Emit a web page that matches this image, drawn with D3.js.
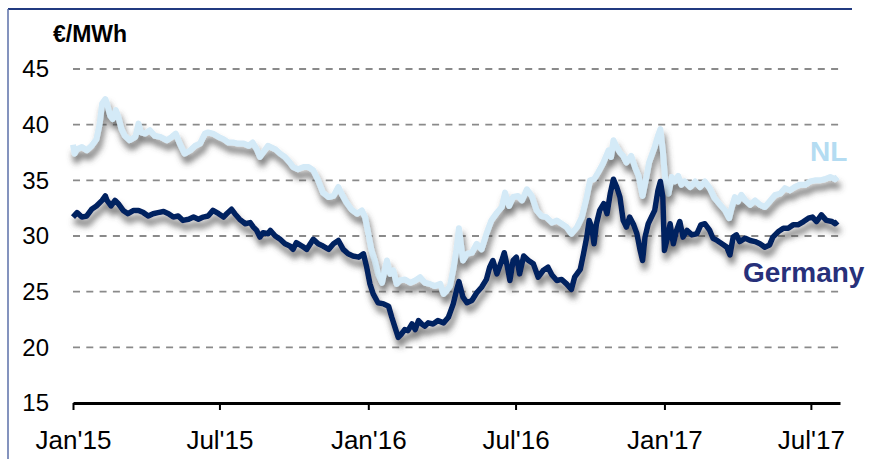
<!DOCTYPE html>
<html><head><meta charset="utf-8">
<script src="https://cdn.jsdelivr.net/npm/d3@7"></script>
<style>html,body{margin:0;padding:0;background:#fff;}svg{display:block;font-family:"Liberation Sans",Arial,sans-serif;}</style>
</head><body>
<script>
// ---- data (day offset from 1 Jan 2015, €/MWh) ----
const startDate = new Date(2015, 0, 1);
const yTicks = [15, 20, 25, 30, 35, 40, 45];
const unitLabel = "€/MWh";
const seriesNames = ["NL", "Germany"];

const nlDays = [0,2,5,11,17,23,29,33,36,40,42,46,49,53,56,60,64,70,77,81,84,89,95,101,108,116,122,127,132,138,145,151,157,163,167,173,180,186,192,198,204,211,217,222,227,231,235,241,244,250,256,262,268,272,278,285,291,297,303,309,316,322,328,332,338,344,351,357,361,365,369,373,377,382,386,388,392,396,400,404,410,417,423,429,435,441,447,454,458,462,466,470,474,477,482,487,493,499,505,511,517,524,530,534,539,544,550,555,561,567,573,579,585,592,598,604,610,616,623,629,635,639,644,649,655,662,665,668,672,676,680,684,690,695,699,704,709,712,715,719,723,726,729,732,736,740,744,748,752,756,763,769,775,781,787,793,800,806,811,814,818,822,826,831,837,843,849,855,861,868,874,880,886,892,898,905,911,917,923,929,936,942,945];
const nlValues = [38.2,37.4,37.8,38.0,37.7,38.1,38.7,40.1,41.9,42.3,41.9,40.8,40.5,41.3,40.7,39.6,39.0,38.6,38.9,40.1,39.3,39.2,39.5,39.0,38.9,38.6,38.9,39.2,38.3,37.4,37.7,38.1,38.3,39.2,39.3,39.2,38.9,38.7,38.4,38.4,38.3,38.3,38.1,38.4,37.8,37.1,37.5,38.1,38.0,37.8,37.4,37.1,36.6,36.2,36.0,36.2,36.2,35.9,35.0,33.9,33.5,33.6,34.4,33.8,33.0,32.4,32.0,32.3,31.7,30.2,28.7,27.8,26.6,25.8,27.2,27.8,26.6,26.9,25.7,26.0,26.1,25.8,26.0,26.3,25.8,25.7,25.5,25.7,24.8,25.1,25.5,27.0,28.8,30.7,27.8,28.4,28.5,29.3,28.8,30.2,31.4,32.1,32.6,33.9,32.7,33.5,33.6,33.2,34.2,33.6,32.3,31.8,31.7,31.2,31.4,31.1,30.8,30.2,30.8,31.7,33.5,35.0,35.1,35.7,36.5,37.7,37.1,38.6,38.0,37.5,37.2,36.6,37.2,36.1,35.4,33.6,35.4,36.6,37.2,38.0,39.0,39.6,37.7,35.0,33.8,35.3,34.9,35.4,34.6,34.9,34.4,34.9,34.4,34.9,34.3,33.4,32.8,32.3,31.6,32.5,33.5,33.1,33.7,33.2,32.8,33.2,32.8,32.6,33.1,33.7,33.8,34.3,34.1,34.4,34.6,34.6,34.9,35.0,35.0,35.1,35.3,35.1,35.3];

const deDays = [0,5,11,17,23,29,36,40,42,47,52,56,62,68,75,81,87,93,99,105,112,118,124,130,136,143,149,155,161,167,173,180,186,190,196,200,206,213,219,223,227,231,235,241,244,250,256,262,268,272,276,283,289,297,303,309,316,322,328,334,340,346,353,359,363,367,371,377,384,390,394,398,402,406,410,414,419,423,427,431,435,439,445,451,458,464,466,470,474,477,482,487,493,499,505,511,515,519,524,530,533,537,540,544,548,552,557,563,569,575,581,587,592,598,604,610,616,620,627,631,635,638,641,644,647,651,656,660,664,668,672,676,680,684,688,693,697,701,704,707,711,715,719,723,726,729,731,734,738,742,746,750,754,759,765,771,776,781,787,791,796,802,808,812,816,820,824,831,837,843,849,855,861,865,872,878,884,890,896,903,909,914,919,925,931,938,942,945];
const deValues = [31.7,32.1,31.7,31.8,32.4,32.7,33.2,33.6,33.2,32.7,33.2,32.9,32.3,32.0,32.3,32.3,32.1,31.8,32.0,32.1,32.2,32.0,31.7,31.8,31.4,31.5,31.7,31.5,31.7,31.8,32.3,32.0,31.7,32.0,32.4,32.0,31.5,31.1,31.2,30.8,30.5,29.9,30.3,30.2,30.5,30.0,29.7,29.3,29.1,28.8,29.4,29.1,28.8,29.7,29.3,29.1,28.8,29.3,29.6,28.8,28.4,28.2,28.1,28.4,27.2,25.7,24.8,24.0,23.9,23.7,22.7,21.8,20.9,21.2,21.6,21.5,22.1,21.6,22.4,22.1,21.9,22.2,22.1,22.4,22.2,22.7,23.1,23.9,25.1,25.9,24.5,24.0,24.2,24.9,25.4,26.1,27.2,27.8,26.6,27.8,28.5,27.2,26.0,27.8,28.1,26.6,28.2,27.8,27.5,26.3,26.9,27.2,26.5,26.0,26.1,25.7,25.2,26.3,27.0,28.4,29.9,31.4,30.8,29.3,31.1,32.3,32.9,32.0,33.8,35.1,34.4,33.5,31.4,30.8,31.7,31.0,30.2,28.7,27.8,29.9,31.1,31.7,32.3,34.1,34.9,33.5,28.7,29.6,31.1,29.3,30.5,31.3,29.9,30.5,30.1,30.2,31.0,31.1,30.5,29.8,29.6,29.3,29.0,28.3,29.9,30.1,29.5,29.8,29.6,29.5,29.3,29.0,29.2,29.9,30.4,30.7,30.7,31.0,31.0,31.3,31.6,31.7,31.3,31.9,31.4,31.3,31.1,31.3];

// ---- chart ----
const W = 870, H = 459;
const svg = d3.select("body").append("svg").attr("width", W).attr("height", H);

const defs = svg.append("defs");
const f = defs.append("filter").attr("id", "shadow")
  .attr("x", "-5%").attr("y", "-10%").attr("width", "115%").attr("height", "150%");
f.append("feDropShadow").attr("dx", 2).attr("dy", 7).attr("stdDeviation", 3)
  .attr("flood-color", "#4a4a4a").attr("flood-opacity", 0.75);

// frame (top and left borders)
svg.append("line").attr("x1", 8).attr("x2", 852).attr("y1", 9).attr("y2", 9)
  .attr("stroke", "#213a80").attr("stroke-width", 2.2);
svg.append("line").attr("x1", 8).attr("x2", 8).attr("y1", 9).attr("y2", H)
  .attr("stroke", "#5b6fa8").attr("stroke-width", 1.5);

const x = d3.scaleTime()
  .domain([startDate, d3.timeDay.offset(startDate, 948)])
  .range([73, 840]);
const y = d3.scaleLinear().domain([15, 45]).range([403, 69]);

// gridlines
svg.append("g").selectAll("line").data(yTicks.filter(v => v > 15)).join("line")
  .attr("x1", 73).attr("x2", 840)
  .attr("y1", d => y(d)).attr("y2", d => y(d))
  .attr("stroke", "#8a8a8a").attr("stroke-width", 1.8)
  .attr("stroke-dasharray", "7,6.3");

// y labels
svg.append("g").selectAll("text").data(yTicks).join("text")
  .attr("x", 49).attr("y", d => y(d)).attr("dy", "0.35em")
  .attr("text-anchor", "end").attr("font-size", 24).attr("fill", "#000")
  .text(d => d);

svg.append("text").attr("x", 53).attr("y", 42)
  .attr("font-size", 23).attr("font-weight", "bold").attr("fill", "#000")
  .text(unitLabel);

// x axis
const xAxis = d3.axisBottom(x)
  .ticks(d3.timeMonth.every(6))
  .tickFormat(d3.timeFormat("%b'%y"))
  .tickSize(7).tickSizeOuter(0);
const gx = svg.append("g").attr("transform", "translate(0,403)").call(xAxis);
gx.select(".domain").attr("stroke", "#000").attr("stroke-width", 2.8);
gx.selectAll(".tick line").attr("stroke", "#000").attr("stroke-width", 2);
gx.selectAll(".tick text").attr("font-size", 26).attr("fill", "#000")
  .attr("font-family", "Liberation Sans, Arial, sans-serif").attr("dy", "1.38em");

// lines
const line = d3.line().x(d => x(d[0])).y(d => y(d[1]));
const toPts = (days, vals) => days.map((d, i) => [d3.timeDay.offset(startDate, d), vals[i]]);

svg.append("path").datum(toPts(nlDays, nlValues))
  .attr("d", line).attr("fill", "none").attr("stroke", "#d4eaf7")
  .attr("stroke-width", 6).attr("stroke-linejoin", "round")
  .attr("filter", "url(#shadow)");
svg.append("path").datum(toPts(deDays, deValues))
  .attr("d", line).attr("fill", "none").attr("stroke", "#002060")
  .attr("stroke-width", 5.5).attr("stroke-linejoin", "round")
  .attr("filter", "url(#shadow)");

// series labels
svg.append("text").attr("x", 810).attr("y", 161).attr("font-size", 28)
  .attr("font-weight", "bold").attr("fill", "#b4dcf2").text(seriesNames[0]);
svg.append("text").attr("x", 743).attr("y", 282).attr("font-size", 28)
  .attr("font-weight", "bold").attr("fill", "#27307a").text(seriesNames[1]);
</script>
</body></html>
